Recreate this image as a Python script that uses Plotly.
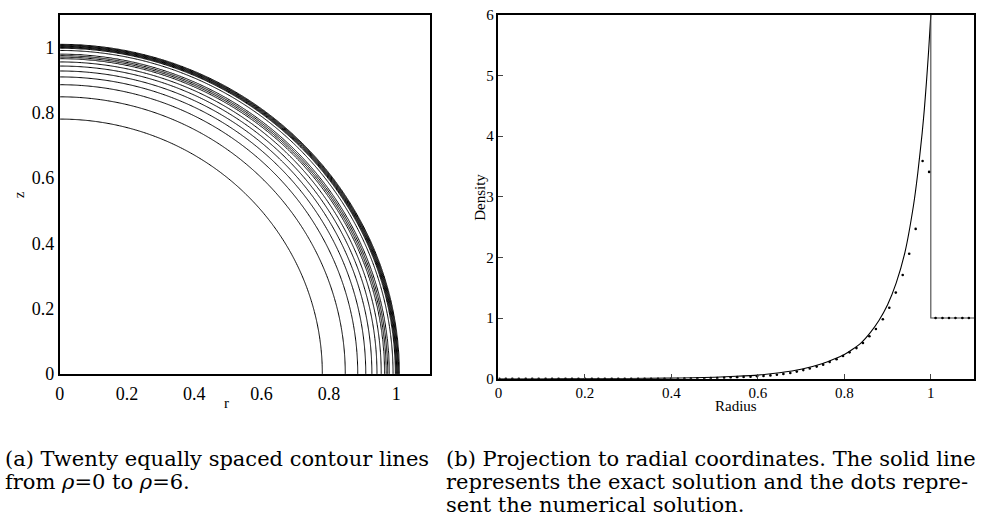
import numpy as np
import plotly.graph_objects as go

# ---------------- data ----------------
# exact solution (radial projection), smooth part up to the shock
exact_r = [0.0, 0.1, 0.2, 0.3, 0.4, 0.45, 0.5, 0.55, 0.6, 0.65, 0.7, 0.75, 0.775,
           0.8, 0.82, 0.84, 0.86, 0.88, 0.9, 0.92, 0.94, 0.96, 0.97, 0.98,
           0.985, 0.99, 0.995, 1.0]
exact_rho = [0.0, 0.0005, 0.0015, 0.004, 0.01, 0.016, 0.025, 0.04, 0.06, 0.098, 0.155,
             0.25, 0.32, 0.40, 0.49, 0.60, 0.76, 0.96, 1.22, 1.58, 2.08, 2.86, 3.40,
             4.05, 4.44, 4.90, 5.41, 6.0]
# shock jump and pre-shock state
shock_r = [1.0, 1.0, 1.1]
shock_rho = [6.0, 1.0, 1.0]

# numerical solution (dots)
num_r = [0.002, 0.017, 0.032, 0.047, 0.063, 0.078, 0.093, 0.109, 0.124, 0.139,
         0.155, 0.170, 0.185, 0.200, 0.216, 0.231, 0.246, 0.262, 0.277, 0.292,
         0.307, 0.323, 0.338, 0.353, 0.369, 0.384, 0.399, 0.415, 0.430, 0.445,
         0.460, 0.476, 0.491, 0.506, 0.522, 0.537, 0.552, 0.567, 0.583, 0.598,
         0.613, 0.629, 0.644, 0.659, 0.675, 0.690, 0.705, 0.720, 0.736, 0.751,
         0.766, 0.782, 0.797, 0.812, 0.828, 0.843, 0.858, 0.873, 0.889, 0.904,
         0.919, 0.935, 0.950, 0.965, 0.981, 0.996,
         1.011, 1.027, 1.042, 1.057, 1.073, 1.088]
num_rho = [0.0, 0.0, 0.0, 0.0, 0.0, 0.0, 0.0, 0.0, 0.0, 0.0,
           0.0, 0.0, 0.0, 0.0, 0.0, 0.0, 0.0, 0.0, 0.0, 0.0,
           0.0, 0.0, 0.0, 0.0, 0.0, 0.0, 0.0, 0.0, 0.003, 0.004,
           0.006, 0.008, 0.010, 0.013, 0.017, 0.021, 0.026, 0.030, 0.034, 0.040,
           0.047, 0.055, 0.066, 0.080, 0.095, 0.118, 0.142, 0.168, 0.200, 0.232,
           0.275, 0.320, 0.375, 0.435, 0.505, 0.590, 0.700, 0.820, 0.980, 1.170,
           1.420, 1.710, 2.060, 2.470, 3.590, 3.410,
           1.0, 1.0, 1.0, 1.0, 1.0, 1.0]

# contour levels: twenty equally spaced lines from rho=0 to rho=6
level_min = 0.0
level_max = 6.0
n_levels = 20

# tick labels
left_ticks = [0, 0.2, 0.4, 0.6, 0.8, 1]
left_ticktext = ["0", "0.2", "0.4", "0.6", "0.8", "1"]
right_xticks = [0, 0.2, 0.4, 0.6, 0.8, 1]
right_xticktext = ["0", "0.2", "0.4", "0.6", "0.8", "1"]
right_yticks = [0, 1, 2, 3, 4, 5, 6]

caption_a = ["(a) Twenty equally spaced contour lines",
             "from <i>ρ</i>=0 to <i>ρ</i>=6."]
caption_b = ["(b) Projection to radial coordinates. The solid line",
             "represents the exact solution and the dots repre-",
             "sent the numerical solution."]

# ---------------- 2D field from the numerical radial profile ----------------
grid = np.linspace(0, 1.1, 331)
RR, ZZ = np.meshgrid(grid, grid)
field = np.interp(np.sqrt(RR ** 2 + ZZ ** 2), num_r, num_rho)

SERIF = "Liberation Serif, Times New Roman, serif"
CAP = "DejaVu Serif, serif"
W, H = 983, 521

def px(x):
    return x / W

def py(y):
    return 1 - y / H

step = (level_max - level_min) / (n_levels - 1)

fig = go.Figure()

fig.add_trace(go.Contour(
    x=grid, y=grid, z=field,
    contours=dict(start=level_min + step, end=level_max, size=step,
                  coloring="lines"),
    colorscale=[[0, "black"], [1, "black"]],
    line=dict(width=1, smoothing=1),
    showscale=False, hoverinfo="skip",
    xaxis="x", yaxis="y",
))

fig.add_trace(go.Scatter(
    x=exact_r, y=exact_rho, mode="lines",
    line=dict(color="black", width=1.1, shape="spline", smoothing=0.5),
    xaxis="x2", yaxis="y2", showlegend=False,
))
fig.add_trace(go.Scatter(
    x=shock_r, y=shock_rho, mode="lines",
    line=dict(color="#444444", width=1.1),
    xaxis="x2", yaxis="y2", showlegend=False,
))
fig.add_trace(go.Scatter(
    x=num_r, y=num_rho, mode="markers",
    marker=dict(color="black", size=2.6),
    xaxis="x2", yaxis="y2", showlegend=False,
))

axis_common = dict(showgrid=False, zeroline=False, showline=True,
                   linecolor="black", mirror=True, ticklabeloverflow="allow")

fig.update_layout(
    width=W, height=H,
    margin=dict(l=0, r=0, t=0, b=0),
    paper_bgcolor="white", plot_bgcolor="white",
    showlegend=False,
    font=dict(family=SERIF, color="black"),
    xaxis=dict(domain=[px(55), px(427)], range=[0, 1.1], anchor="y",
               tickvals=left_ticks, ticktext=left_ticktext,
               tickfont=dict(size=18, family=SERIF), ticks="", ticklabelstandoff=3,
               linewidth=1.5, **axis_common),
    yaxis=dict(domain=[py(379), py(7)], range=[0, 1.1], anchor="x",
               tickvals=left_ticks, ticktext=left_ticktext,
               tickfont=dict(size=18, family=SERIF), ticks="", ticklabelstandoff=0,
               linewidth=1.5, **axis_common),
    xaxis2=dict(domain=[px(496), px(974)], range=[0, 1.1], anchor="y2",
                tickvals=right_xticks, ticktext=right_xticktext,
                tickfont=dict(size=15, family=SERIF), ticks="inside", ticklen=5,
                tickwidth=1.2, ticklabelstandoff=0,
                linewidth=1.5, **axis_common),
    yaxis2=dict(domain=[py(384), py(7)], range=[0, 6], anchor="x2",
                tickvals=right_yticks,
                tickfont=dict(size=15, family=SERIF), ticks="inside", ticklen=5,
                tickwidth=1.2, ticklabelstandoff=0,
                linewidth=1.5, **axis_common),
)

ann = []
# axis titles
ann.append(dict(text="r", x=px(223), y=py(409), font=dict(size=15)))
ann.append(dict(text="z", x=px(14), y=py(193), font=dict(size=15), textangle=-90))
ann.append(dict(text="Radius", x=px(735), y=py(412), font=dict(size=15)))
ann.append(dict(text="Density", x=px(478), y=py(196), font=dict(size=15), textangle=-90))
# captions
for i, line in enumerate(caption_a):
    ann.append(dict(text=line, x=px(-2), y=py(467 + 24 * i), xanchor="left",
                    font=dict(size=21, family=CAP)))
for i, line in enumerate(caption_b):
    ann.append(dict(text=line, x=px(441), y=py(467 + 24 * i), xanchor="left",
                    font=dict(size=21, family=CAP)))
for a in ann:
    a.setdefault("xanchor", "center")
    a.update(xref="paper", yref="paper", yanchor="middle", showarrow=False)
fig.update_layout(annotations=ann)

fig.write_html("out.html")
